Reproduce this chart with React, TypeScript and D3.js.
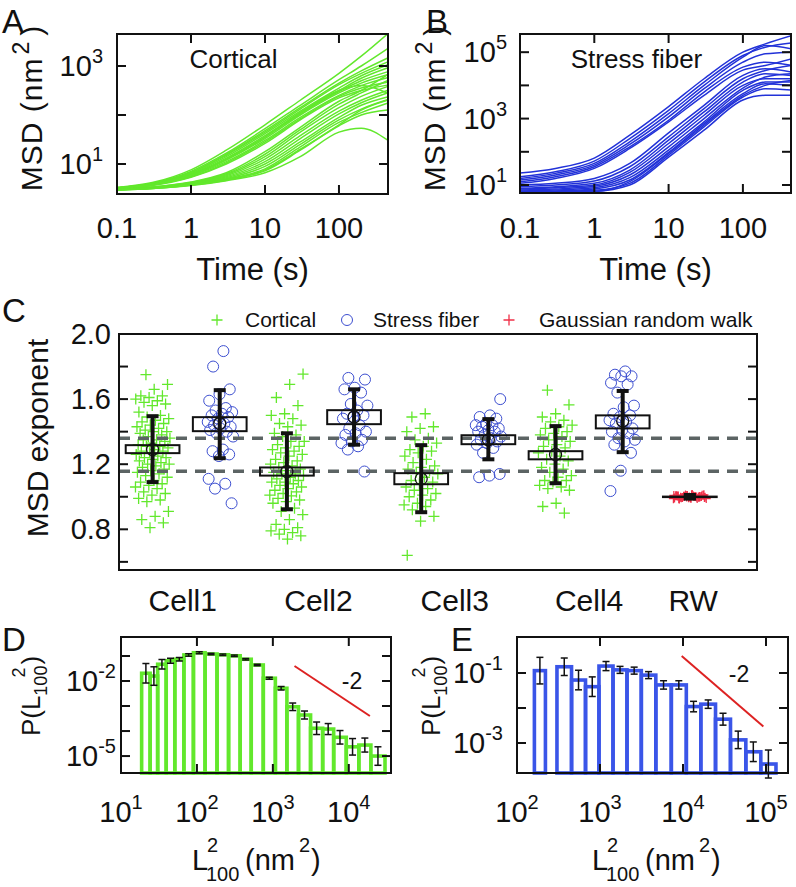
import React from "react";
import * as d3 from "d3";

const FONT = '"Liberation Sans", Arial, Helvetica, sans-serif';
const GREEN = "#62e82c";
const BLUE_LINE = "#2232d8";
const BLUE_BAR = "#3a55e8";
const BLUE_PT = "#3d4fd0";
const RED = "#dd2222";
const PINK = "#f03048";
const DASH = "#5c6464";

// ---------- Panel A / B : MSD curves ----------
const timePoints = [0.1, 0.3, 1, 3, 10, 30, 100, 200, 450];

const corticalMSD = [
  [3.31, 4.17, 7.59, 19.1, 63.1, 200, 708, 1585, 4467],
  [3.31, 4.07, 7.08, 16.6, 52.5, 158, 525, 1000, 2239],
  [3.24, 3.98, 6.76, 15.8, 47.9, 141, 447, 794, 1445],
  [3.24, 3.98, 6.61, 15.1, 44.7, 132, 417, 708, 1202],
  [3.24, 3.89, 6.31, 14.1, 41.7, 120, 355, 631, 1047],
  [3.16, 3.89, 6.17, 13.2, 38.0, 112, 316, 562, 912],
  [3.16, 3.8, 6.03, 12.6, 35.5, 105, 302, 501, 759],
  [3.16, 3.8, 5.89, 12.0, 33.1, 100, 282, 447, 661],
  [3.16, 3.72, 5.75, 11.2, 30.2, 89.1, 251, 398, 575],
  [3.09, 3.72, 5.5, 10.5, 28.2, 83.2, 240, 355, 468],
  [3.09, 3.63, 5.37, 10.0, 26.3, 79.4, 224, 316, 407],
  [3.16, 3.8, 5.89, 12.3, 35.5, 112, 316, 398, 282],
  [3.09, 3.39, 4.27, 6.61, 17.8, 56.2, 191, 316, 661],
  [3.09, 3.39, 4.17, 6.31, 15.8, 50.1, 166, 282, 501],
  [3.02, 3.31, 4.07, 6.03, 14.1, 44.7, 141, 240, 380],
  [3.02, 3.31, 3.98, 5.75, 12.6, 38.0, 120, 200, 316],
  [3.02, 3.31, 3.98, 5.5, 11.2, 33.1, 105, 178, 282],
  [3.02, 3.24, 3.89, 5.25, 10.0, 28.2, 89.1, 158, 234],
  [3.02, 3.24, 3.8, 5.01, 8.91, 25.1, 79.4, 132, 204],
  [2.95, 3.24, 3.8, 4.9, 7.94, 22.4, 70.8, 112, 174],
  [2.95, 3.16, 3.72, 4.79, 7.24, 19.1, 60.3, 100, 126],
  [2.95, 3.16, 3.63, 4.57, 6.61, 14.1, 44.7, 53.7, 30.9],
  [2.95, 3.16, 3.72, 4.68, 7.59, 20.0, 63.1, 126, 200],
];

const stressMSD = [
  [22.9, 31.6, 64.6, 316, 2291, 15850, 100000, 177800, 316200],
  [17.8, 25.1, 52.5, 251, 1778, 12590, 79430, 141300, 190500],
  [15.8, 22.4, 44.7, 200, 1413, 10000, 70790, 158500, 125900],
  [14.1, 20.0, 39.8, 166, 1122, 7943, 50120, 89130, 100000],
  [12.6, 17.8, 35.5, 141, 891, 6310, 35480, 50120, 39810],
  [11.2, 15.8, 31.6, 126, 794, 5012, 28840, 39810, 63100],
  [10.0, 11.2, 15.8, 44.7, 372, 2512, 19950, 31620, 25120],
  [8.91, 10.0, 13.2, 35.5, 282, 1995, 15850, 28180, 39810],
  [7.94, 8.91, 11.2, 28.2, 224, 1585, 12590, 22390, 19950],
  [7.59, 8.32, 10.0, 24.0, 178, 1259, 10000, 15850, 15850],
  [7.08, 7.59, 9.12, 20.0, 141, 1000, 8318, 17780, 22390],
  [6.61, 7.08, 8.32, 16.6, 112, 794, 7079, 12590, 12590],
  [6.31, 6.61, 7.59, 14.1, 95.5, 708, 5623, 11220, 10000],
  [6.03, 6.31, 6.92, 11.2, 79.4, 562, 4467, 7943, 7244],
  [5.89, 6.17, 6.46, 10.0, 69.2, 447, 3631, 5012, 5012],
  [5.75, 6.03, 6.31, 12.6, 89.1, 631, 5012, 10000, 14130],
];

const timeTicks = [0.1, 1, 10, 100];
const timeTickLabels = ["0.1", "1", "10", "100"];
const msdTicksA = [10, 100, 1000];
const msdLabelsA = [{ v: 10, e: "1" }, { v: 1000, e: "3" }];
const msdTicksB = [10, 100, 1000, 10000, 100000];
const msdLabelsB = [{ v: 10, e: "1" }, { v: 1000, e: "3" }, { v: 100000, e: "5" }];

// ---------- Panel C : MSD exponents ----------
const cell1Cortical = [1.75, 1.69, 1.66, 1.62, 1.62, 1.61, 1.6, 1.59, 1.58, 1.57, 1.56, 1.52, 1.5, 1.49, 1.48, 1.47, 1.46, 1.45, 1.44, 1.43, 1.42, 1.41, 1.4, 1.4, 1.39, 1.38, 1.37, 1.36, 1.35, 1.35, 1.34, 1.33, 1.32, 1.31, 1.31, 1.3, 1.29, 1.28, 1.28, 1.27, 1.26, 1.25, 1.24, 1.24, 1.23, 1.22, 1.21, 1.2, 1.2, 1.19, 1.18, 1.17, 1.16, 1.15, 1.14, 1.13, 1.12, 1.1, 1.09, 1.08, 1.07, 1.06, 1.05, 1.03, 1.02, 1.01, 0.99, 0.98, 0.97, 0.91, 0.88, 0.86, 0.84, 0.81];
const cell1Stress = [1.895, 1.8, 1.66, 1.63, 1.59, 1.545, 1.53, 1.52, 1.51, 1.5, 1.49, 1.48, 1.46, 1.45, 1.44, 1.43, 1.42, 1.41, 1.4, 1.39, 1.37, 1.29, 1.28, 1.26, 1.25, 1.11, 1.08, 1.05, 0.96];
const cell2Cortical = [1.754, 1.69, 1.61, 1.56, 1.51, 1.5, 1.48, 1.45, 1.44, 1.43, 1.39, 1.38, 1.37, 1.34, 1.34, 1.32, 1.31, 1.3, 1.29, 1.28, 1.27, 1.26, 1.25, 1.23, 1.22, 1.21, 1.2, 1.19, 1.18, 1.17, 1.16, 1.15, 1.14, 1.14, 1.13, 1.12, 1.11, 1.1, 1.09, 1.09, 1.08, 1.07, 1.06, 1.05, 1.04, 1.03, 1.02, 1.01, 1.005, 0.99, 0.98, 0.97, 0.96, 0.93, 0.91, 0.89, 0.86, 0.83, 0.81, 0.8, 0.79, 0.78, 0.77, 0.76, 0.74];
const cell2Stress = [1.73, 1.72, 1.67, 1.66, 1.64, 1.57, 1.56, 1.53, 1.51, 1.5, 1.49, 1.48, 1.44, 1.42, 1.4, 1.39, 1.38, 1.35, 1.34, 1.33, 1.31, 1.29, 1.155];
const cell3Cortical = [1.51, 1.49, 1.43, 1.42, 1.4, 1.36, 1.35, 1.33, 1.31, 1.29, 1.28, 1.27, 1.25, 1.23, 1.21, 1.19, 1.18, 1.17, 1.16, 1.15, 1.14, 1.12, 1.1, 1.09, 1.08, 1.06, 1.05, 1.04, 1.02, 1.01, 1.0, 0.98, 0.96, 0.95, 0.94, 0.92, 0.88, 0.85, 0.64];
const cell3Stress = [1.6, 1.5, 1.49, 1.48, 1.45, 1.44, 1.44, 1.43, 1.42, 1.41, 1.4, 1.4, 1.38, 1.37, 1.36, 1.35, 1.34, 1.33, 1.32, 1.3, 1.27, 1.14, 1.13, 1.12];
const cell4Cortical = [1.655, 1.565, 1.51, 1.49, 1.47, 1.46, 1.44, 1.43, 1.42, 1.4, 1.39, 1.38, 1.37, 1.35, 1.34, 1.32, 1.31, 1.3, 1.28, 1.27, 1.25, 1.23, 1.22, 1.2, 1.18, 1.17, 1.15, 1.13, 1.12, 1.1, 1.1, 1.09, 1.07, 1.06, 1.05, 1.04, 0.96, 0.94, 0.9];
const cell4Stress = [1.77, 1.75, 1.74, 1.74, 1.7, 1.69, 1.64, 1.56, 1.55, 1.51, 1.5, 1.49, 1.47, 1.46, 1.45, 1.42, 1.41, 1.4, 1.39, 1.36, 1.35, 1.34, 1.32, 1.27, 1.16, 1.035];
const randomWalk = [1.012, 0.991, 1.004, 0.996, 1.008, 0.988, 1.001, 0.994, 1.01, 0.998, 1.006, 0.99, 1.003, 0.997, 1.014, 0.986, 1.0, 1.007, 0.993, 1.002, 0.995, 1.009, 0.992, 1.005, 0.999, 1.011, 0.989, 1.004, 0.997, 1.001, 0.994, 1.006, 0.998, 1.003, 0.996, 1.013, 0.987, 1.002, 0.999, 1.008];

const groupValues = [cell1Cortical, cell1Stress, cell2Cortical, cell2Stress, cell3Cortical, cell3Stress, cell4Cortical, cell4Stress, randomWalk];
const groupKinds = ["cortical", "stress", "cortical", "stress", "cortical", "stress", "cortical", "stress", "rw"];
const groupMean = [1.29, 1.45, 1.155, 1.49, 1.11, 1.35, 1.26, 1.465, 1.0];
const boxLow = [1.268, 1.403, 1.13, 1.446, 1.077, 1.323, 1.23, 1.42, 0.999];
const boxHigh = [1.317, 1.489, 1.18, 1.532, 1.145, 1.378, 1.28, 1.5, 1.001];
const sdLow = [1.09, 1.237, 0.923, 1.32, 0.905, 1.23, 1.083, 1.274, 0.99];
const sdHigh = [1.495, 1.655, 1.39, 1.66, 1.317, 1.477, 1.434, 1.65, 1.01];
const refLevels = [1.36, 1.157];
const categoryNames = ["Cell1", "Cell2", "Cell3", "Cell4", "RW"];
const categoryPos = [0.45, 2.47, 4.5, 6.5, 8.05];
const exponentTicks = [0.6, 0.8, 1.0, 1.2, 1.4, 1.6, 1.8];
const exponentLabels = ["2.0", "1.6", "1.2", "0.8"];
const legendNames = ["Cortical", "Stress fiber", "Gaussian random walk"];

// ---------- Panel D : cortical L100^2 distribution ----------
const dEdges = [18.7, 24.2, 30.4, 39.4, 51.1, 67.3, 89.9, 128, 184, 261, 371, 519, 748, 1079, 1531, 2176, 3139, 4529, 6324, 9268, 13560, 19540, 29990];
const dProb = [0.0204, 0.0158, 0.0468, 0.0646, 0.0741, 0.11, 0.135, 0.12, 0.112, 0.102, 0.0741, 0.0437, 0.0129, 0.00513, 0.000933, 0.000437, 0.000129, 0.00012, 5.62e-5, 2.34e-5, 2.75e-5, 1.0e-5];
const dErrDecades = [0.39, 0.37, 0.19, 0.1, 0.07, 0.05, 0.04, 0.03, 0.03, 0.03, 0.03, 0.03, 0.04, 0.07, 0.15, 0.16, 0.25, 0.22, 0.27, 0.33, 0.28, 0.37];
const dSlope = { x: [1928, 18970], y: [0.0398, 0.000398] };
const dXTicks = [10, 100, 1000, 10000];
const dXLabels = [{ v: 10, e: "1" }, { v: 100, e: "2" }, { v: 1000, e: "3" }, { v: 10000, e: "4" }];
const dYTicks = [1e-1, 1e-2, 1e-3, 1e-4, 1e-5];
const dYLabels = [{ v: 1e-2, e: "-2" }, { v: 1e-5, e: "-5" }];

// ---------- Panel E : stress fiber L100^2 distribution ----------
const eEdges = [162, 220, 303, 454, 669, 972, 1435, 2115, 3145, 4702, 7227, 10960, 16380, 24640, 37330, 57100, 86500, 131800];
const eProb = [0.117, 0, 0.151, 0.063, 0.0407, 0.158, 0.123, 0.117, 0.0871, 0.0457, 0.0457, 0.011, 0.0129, 0.00479, 0.00123, 0.000562, 0.000251];
const eErrDecades = [0.38, 0, 0.25, 0.28, 0.28, 0.13, 0.1, 0.1, 0.1, 0.12, 0.12, 0.15, 0.12, 0.17, 0.25, 0.28, 0.4];
const eSlope = { x: [9640, 92900], y: [0.306, 0.00295] };
const eXTicks = [100, 1000, 10000, 100000];
const eXLabels = [{ v: 100, e: "2" }, { v: 1000, e: "3" }, { v: 10000, e: "4" }, { v: 100000, e: "5" }];
const eYTicks = [1e-1, 1e-2, 1e-3];
const eYLabels = [{ v: 1e-1, e: "-1" }, { v: 1e-3, e: "-3" }];

// ---------- helpers ----------
const TICK_FS = 29;
const SUP_FS = 20;

function jitter(i: number) {
  const f = (i * 0.6180339887 + 0.31) % 1;
  return f - 0.5;
}

function Frame({ xs, ys, xt, yt, len = 9 }: any) {
  const [x0, x1] = xs.range();
  const [yb, yt0] = ys.range();
  const out: any[] = [];
  xt.forEach((v: number, i: number) => {
    const x = xs(v);
    if (Math.abs(x - x0) < 1.5 || Math.abs(x - x1) < 1.5) return;
    out.push(<line key={"xb" + i} x1={x} x2={x} y1={yb} y2={yb - len} />);
    out.push(<line key={"xt" + i} x1={x} x2={x} y1={yt0} y2={yt0 + len} />);
  });
  yt.forEach((v: number, i: number) => {
    const y = ys(v);
    if (Math.abs(y - yb) < 1.5 || Math.abs(y - yt0) < 1.5) return;
    out.push(<line key={"yl" + i} x1={x0} x2={x0 + len} y1={y} y2={y} />);
    out.push(<line key={"yr" + i} x1={x1} x2={x1 - len} y1={y} y2={y} />);
  });
  return (
    <g stroke="#111" strokeWidth={2} fill="none">
      {out}
      <rect x={x0} y={yt0} width={x1 - x0} height={yb - yt0} />
    </g>
  );
}

function PowLabel({ x, y, e, anchor = "middle", fs = TICK_FS, sfs = SUP_FS }: any) {
  return (
    <text x={x} y={y} textAnchor={anchor} fontSize={fs} fontFamily={FONT} fill="#111">
      10
      <tspan dy={-fs * 0.45} fontSize={sfs}>{e}</tspan>
    </text>
  );
}

function MSDPanel({ data, color, xs, ys, yTicks, yLabels, yLabelRight, title, letter, letterX, clip }: any) {
  const line = d3
    .line<number>()
    .x((_, i) => xs(timePoints[i]))
    .y((d) => ys(d))
    .curve(d3.curveMonotoneX);
  const [x0, x1] = xs.range();
  const [yb, yt] = ys.range();
  const cx = (x0 + x1) / 2;
  return (
    <g>
      <defs>
        <clipPath id={clip}>
          <rect x={x0} y={yt} width={x1 - x0} height={yb - yt} />
        </clipPath>
      </defs>
      <g clipPath={`url(#${clip})`} fill="none" stroke={color} strokeWidth={1.5}>
        {data.map((s: number[], i: number) => (
          <path key={i} d={line(s) as string} />
        ))}
      </g>
      <Frame xs={xs} ys={ys} xt={timeTicks} yt={yTicks} />
      {timeTicks.map((t: number, i: number) => (
        <text key={i} x={xs(t)} y={238} textAnchor="middle" fontSize={TICK_FS} fontFamily={FONT} fill="#111">
          {timeTickLabels[i]}
        </text>
      ))}
      {yLabels.map((l: any, i: number) => (
        <PowLabel key={i} x={yLabelRight} y={ys(l.v) + 10} e={l.e} anchor="end" />
      ))}
      <text x={cx} y={280} textAnchor="middle" fontSize={31} fontFamily={FONT} fill="#111">
        Time (s)
      </text>
      <text
        transform={`translate(${x0 - 75},${108}) rotate(-90)`}
        textAnchor="middle"
        fontSize={30}
        fontFamily={FONT}
        fill="#111"
        letterSpacing={1}
      >
        MSD (nm<tspan dx={3} dy={-13} fontSize={23}>2</tspan>
        <tspan dx={5} dy={13}>)</tspan>
      </text>
      <text x={x0 + (x1 - x0) * 0.43} y={68} textAnchor="middle" fontSize={26} fontFamily={FONT} fill="#111">
        {title}
      </text>
      <text x={letterX} y={33} fontSize={33} fontFamily={FONT} fill="#111">
        {letter}
      </text>
    </g>
  );
}

function Plus({ x, y, s = 5.5, color, w = 1.3 }: any) {
  return <path d={`M${x - s},${y}H${x + s}M${x},${y - s}V${y + s}`} stroke={color} strokeWidth={w} fill="none" />;
}

function PanelC() {
  const xs = d3.scaleLinear().domain([-0.5, 9]).range([119, 757]);
  const ys = d3.scaleLinear().domain([0.55, 2.0]).range([570, 334]);
  const boxW = xs(0.4) - xs(0);
  const capW = 6;
  return (
    <g>
      {groupValues.map((vals, g) => {
        const kind = groupKinds[g];
        const spread = kind === "cortical" ? 0.52 : kind === "stress" ? 0.4 : 0.5;
        return (
          <g key={g}>
            {vals.map((v, i) => {
              const x = xs(g + jitter(i + g * 7) * spread);
              const y = ys(v);
              if (kind === "stress")
                return <circle key={i} cx={x} cy={y} r={5.5} fill="none" stroke={BLUE_PT} strokeWidth={1} />;
              if (kind === "rw") return <Plus key={i} x={x} y={y} s={4.5} color={PINK} w={1.2} />;
              return <Plus key={i} x={x} y={y} color={GREEN} />;
            })}
          </g>
        );
      })}
      {refLevels.map((v, i) => (
        <line key={i} x1={xs(-0.5)} x2={xs(9)} y1={ys(v)} y2={ys(v)} stroke={DASH} strokeWidth={3.5} strokeDasharray="11 8" />
      ))}
      {groupValues.map((_, g) => {
        const cx = xs(g);
        const isRW = groupKinds[g] === "rw";
        return (
          <g key={g} stroke="#111" fill="none">
            <rect x={cx - boxW} y={ys(boxHigh[g])} width={2 * boxW} height={Math.max(0.5, ys(boxLow[g]) - ys(boxHigh[g]))} strokeWidth={2} />
            <line x1={cx} x2={cx} y1={ys(sdLow[g])} y2={ys(sdHigh[g])} strokeWidth={4} />
            <line x1={cx - capW} x2={cx + capW} y1={ys(sdLow[g])} y2={ys(sdLow[g])} strokeWidth={4} />
            <line x1={cx - capW} x2={cx + capW} y1={ys(sdHigh[g])} y2={ys(sdHigh[g])} strokeWidth={4} />
            {isRW ? (
              <rect x={cx - capW} y={ys(sdHigh[g]) - 2} width={2 * capW} height={ys(sdLow[g]) - ys(sdHigh[g]) + 4} fill="#111" stroke="none" />
            ) : (
              <circle cx={cx} cy={ys(groupMean[g])} r={6} strokeWidth={1.3} />
            )}
          </g>
        );
      })}
      <g stroke="#111" strokeWidth={2} fill="none">
        {exponentTicks.map((v, i) => (
          <g key={i}>
            <line x1={119} x2={128} y1={ys(v)} y2={ys(v)} />
            <line x1={757} x2={748} y1={ys(v)} y2={ys(v)} />
          </g>
        ))}
        <rect x={119} y={334} width={757 - 119} height={570 - 334} />
      </g>
      {exponentLabels.map((l, i) => (
        <text key={i} x={111} y={ys(+l) + 10} textAnchor="end" fontSize={TICK_FS} fontFamily={FONT} fill="#111">
          {l}
        </text>
      ))}
      {categoryNames.map((c, i) => (
        <text key={i} x={xs(categoryPos[i])} y={611} textAnchor="middle" fontSize={30} fontFamily={FONT} fill="#111">
          {c}
        </text>
      ))}
      <text transform="translate(48,438) rotate(-90)" textAnchor="middle" fontSize={30} fontFamily={FONT} fill="#111">
        MSD exponent
      </text>
      <text x={2} y={322} fontSize={33} fontFamily={FONT} fill="#111">C</text>
      {/* legend */}
      <Plus x={217} y={320} color={GREEN} />
      <text x={245} y={327} fontSize={21} fontFamily={FONT} fill="#111">{legendNames[0]}</text>
      <circle cx={347} cy={320} r={5.5} fill="none" stroke={BLUE_PT} strokeWidth={1} />
      <text x={373} y={327} fontSize={21} fontFamily={FONT} fill="#111">{legendNames[1]}</text>
      <Plus x={509} y={320} color={PINK} />
      <text x={539} y={327} fontSize={21} fontFamily={FONT} fill="#111">{legendNames[2]}</text>
    </g>
  );
}

function HistPanel({ edges, prob, err, color, xs, ys, xt, yt, xLabels, yLabels, yLabelRight, slope, slopeLabel, letter, letterX, dx }: any) {
  const [yb] = ys.range();
  return (
    <g>
      <g fill="none" stroke={color} strokeWidth={3.6}>
        {prob.map((p: number, i: number) =>
          p > 0 ? (
            <rect key={i} x={xs(edges[i])} y={ys(p)} width={xs(edges[i + 1]) - xs(edges[i])} height={yb - ys(p)} />
          ) : null
        )}
      </g>
      <g stroke="#111" strokeWidth={1.5}>
        {prob.map((p: number, i: number) => {
          if (p <= 0) return null;
          const cx = (xs(edges[i]) + xs(edges[i + 1])) / 2;
          const lo = ys(p * Math.pow(10, -err[i]));
          const hi = ys(p * Math.pow(10, err[i]));
          return (
            <g key={i}>
              <line x1={cx} x2={cx} y1={lo} y2={hi} />
              <line x1={cx - 3.5} x2={cx + 3.5} y1={lo} y2={lo} />
              <line x1={cx - 3.5} x2={cx + 3.5} y1={hi} y2={hi} />
            </g>
          );
        })}
      </g>
      <line x1={xs(slope.x[0])} x2={xs(slope.x[1])} y1={ys(slope.y[0])} y2={ys(slope.y[1])} stroke={RED} strokeWidth={2} />
      <text x={slopeLabel[0]} y={slopeLabel[1]} textAnchor="middle" fontSize={23} fontFamily={FONT} fill="#111">-2</text>
      <Frame xs={xs} ys={ys} xt={xt} yt={yt} len={9} />
      {xLabels.map((l: any, i: number) => (
        <PowLabel key={i} x={xs(l.v)} y={822} e={l.e} />
      ))}
      {yLabels.map((l: any, i: number) => (
        <PowLabel key={i} x={yLabelRight} y={ys(l.v) + 10} e={l.e} anchor="end" />
      ))}
      <text transform={`translate(${dx + 40},${696}) rotate(-90)`} textAnchor="middle" fontSize={26} fontFamily={FONT} fill="#111">
        P(L<tspan dy={7} fontSize={18}>100</tspan>
        <tspan dx={-12} dy={-22} fontSize={18}>2</tspan>
        <tspan dx={3} dy={15}>)</tspan>
      </text>
      <g fontFamily={FONT} fill="#111">
        <text x={dx + 192} y={870} fontSize={29}>L</text>
        <text x={dx + 206} y={881} fontSize={20}>100</text>
        <text x={dx + 207} y={852} fontSize={20}>2</text>
        <text x={dx + 245} y={870} fontSize={29}>(nm</text>
        <text x={dx + 299} y={852} fontSize={20}>2</text>
        <text x={dx + 311} y={870} fontSize={29}>)</text>
      </g>
      <text x={letterX} y={651} fontSize={33} fontFamily={FONT} fill="#111">{letter}</text>
    </g>
  );
}

export default function App() {
  const xsA = d3.scaleLog().domain([0.1, 460]).range([117, 388]);
  const ysA = d3.scaleLog().domain([2.44, 4500]).range([194, 34]);
  const xsB = d3.scaleLog().domain([0.1, 444]).range([520, 791]);
  const ysB = d3.scaleLog().domain([5.74, 353000]).range([193, 34]);
  const xsD = d3.scaleLog().domain([10, 35970]).range([121, 391]);
  const ysD = d3.scaleLog().domain([2.1e-6, 0.575]).range([773, 637]);
  const xsE = d3.scaleLog().domain([100, 184000]).range([517, 788]);
  const ysE = d3.scaleLog().domain([1.39e-4, 1.07]).range([773, 637]);

  return (
    <svg
      width={796}
      height={887}
      viewBox="0 0 796 887"
      style={{ position: "absolute", left: 0, top: 0, background: "#fff" }}
    >
      <rect x={0} y={0} width={796} height={887} fill="#fff" />
      <MSDPanel
        data={corticalMSD}
        color={GREEN}
        xs={xsA}
        ys={ysA}
        yTicks={msdTicksA}
        yLabels={msdLabelsA}
        yLabelRight={103}
        title="Cortical"
        letter="A"
        letterX={2}
        clip="clipA"
      />
      <MSDPanel
        data={stressMSD}
        color={BLUE_LINE}
        xs={xsB}
        ys={ysB}
        yTicks={msdTicksB}
        yLabels={msdLabelsB}
        yLabelRight={507}
        title="Stress fiber"
        letter="B"
        letterX={426}
        clip="clipB"
      />
      <PanelC />
      <HistPanel
        edges={dEdges}
        prob={dProb}
        err={dErrDecades}
        color={GREEN}
        xs={xsD}
        ys={ysD}
        xt={dXTicks}
        yt={dYTicks}
        xLabels={dXLabels}
        yLabels={dYLabels}
        yLabelRight={116}
        slope={dSlope}
        slopeLabel={[352, 689]}
        letter="D"
        letterX={2}
        dx={0}
      />
      <HistPanel
        edges={eEdges}
        prob={eProb}
        err={eErrDecades}
        color={BLUE_BAR}
        xs={xsE}
        ys={ysE}
        xt={eXTicks}
        yt={eYTicks}
        xLabels={eXLabels}
        yLabels={eYLabels}
        yLabelRight={503}
        slope={eSlope}
        slopeLabel={[739, 682]}
        letter="E"
        letterX={451}
        dx={400}
      />
    </svg>
  );
}
